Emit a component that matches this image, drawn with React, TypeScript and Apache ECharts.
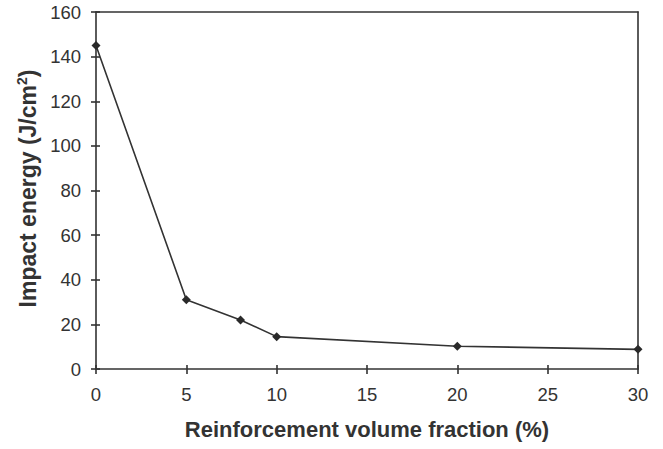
import React, { useEffect, useRef } from "react";
import * as echarts from "echarts";

const fractions = [0, 5, 8, 10, 20, 30];
const energies = [145, 31, 22, 14.5, 10.2, 8.8];
const xTicks = { min: 0, max: 30, interval: 5 };
const yTicks = { min: 0, max: 160, interval: 20 };
const xTitle = "Reinforcement volume fraction (%)";

export default function App() {
  const ref = useRef<HTMLDivElement>(null);
  useEffect(() => {
    const chart = echarts.init(ref.current!, undefined, { renderer: "svg" });
    const line = { lineStyle: { color: "#333", width: 1.6 } };
    const font = "Liberation Sans, Arial, sans-serif";
    chart.setOption({
      animation: false,
      backgroundColor: "#fff",
      grid: { left: 96, top: 12, right: 25, bottom: 80 },
      xAxis: [
        {
          type: "value", position: "bottom", ...xTicks,
          axisLine: { show: true, onZero: false, ...line },
          axisTick: { show: true, inside: false, length: 5, ...line },
          splitLine: { show: false },
          axisLabel: { color: "#333", fontSize: 18.5, fontFamily: font, margin: 16 },
          name: xTitle, nameLocation: "middle", nameGap: 49,
          nameTextStyle: { color: "#333", fontSize: 22, fontWeight: "bold", fontFamily: font },
        },
        {
          type: "value", position: "bottom", ...xTicks,
          axisLine: { show: false, onZero: false },
          axisTick: { show: true, inside: true, length: 4, ...line },
          splitLine: { show: false }, axisLabel: { show: false },
        },
        {
          type: "value", position: "top", ...xTicks,
          axisLine: { show: true, onZero: false, ...line },
          axisTick: { show: false }, splitLine: { show: false }, axisLabel: { show: false },
        },
      ],
      yAxis: [
        {
          type: "value", position: "left", ...yTicks,
          axisLine: { show: true, onZero: false, ...line },
          axisTick: { show: true, inside: false, length: 5, ...line },
          splitLine: { show: false },
          axisLabel: { color: "#333", fontSize: 18.5, fontFamily: font, margin: 15 },
          name: "{a|Impact energy (J/cm}{s|2}{a|)}", nameLocation: "middle", nameGap: 55, nameRotate: 90,
          nameTextStyle: {
            color: "#333", fontFamily: font, padding: [0, 0, 0, 4],
            rich: {
              a: { fontSize: 23, fontWeight: "bold", fontFamily: font, color: "#333" },
              s: { fontSize: 14, fontWeight: "bold", fontFamily: font, color: "#333", padding: [0, 0, 12, 0] },
            },
          },
        },
        {
          type: "value", position: "left", ...yTicks,
          axisLine: { show: false, onZero: false },
          axisTick: { show: true, inside: true, length: 4, ...line },
          splitLine: { show: false }, axisLabel: { show: false },
        },
        {
          type: "value", position: "right", ...yTicks,
          axisLine: { show: true, onZero: false, ...line },
          axisTick: { show: false }, splitLine: { show: false }, axisLabel: { show: false },
        },
      ],
      series: [
        {
          type: "line", xAxisIndex: 0, yAxisIndex: 0,
          data: fractions.map((f, i) => [f, energies[i]]),
          symbol: "diamond", symbolSize: 9,
          itemStyle: { color: "#2a2a2a" },
          lineStyle: { color: "#333", width: 1.6 },
        },
      ],
    });
    return () => chart.dispose();
  }, []);
  return <div ref={ref} style={{ width: 663, height: 449, position: "fixed", left: 0, top: 0 }} />;
}
